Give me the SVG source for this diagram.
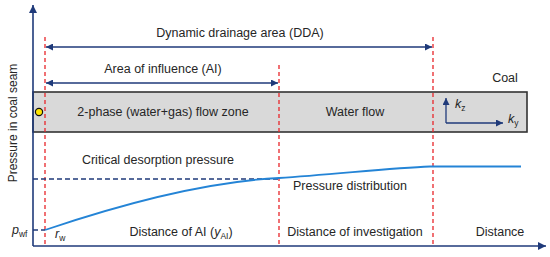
<svg xmlns="http://www.w3.org/2000/svg" width="550" height="257" viewBox="0 0 550 257">
<style>
text{font-family:"Liberation Sans",Arial,sans-serif;font-size:12.5px;fill:#262626}
.mid{text-anchor:middle}
.it{font-style:italic}
.sub{font-size:8.5px}
.ax{stroke:#1f3a7a;stroke-width:1.6;fill:none}
.nav{stroke:#1f3a7a;stroke-width:1.3;fill:none}
.red{stroke:#e8262a;stroke-width:1.3;stroke-dasharray:4 3;fill:none}
.crit{stroke:#1f3a7a;stroke-width:1.3;stroke-dasharray:5 3;fill:none}
.curve{stroke:#2484d6;stroke-width:1.8;fill:none}
</style>
<defs>
<marker id="ah" viewBox="0 0 10 10" refX="10" refY="5" markerWidth="8" markerHeight="7" markerUnits="userSpaceOnUse" orient="auto-start-reverse">
<path d="M0,0 L10,5 L0,10 z" fill="#1f3a7a"/>
</marker>
<marker id="axh" viewBox="0 0 10 10" refX="10" refY="5" markerWidth="9" markerHeight="8" markerUnits="userSpaceOnUse" orient="auto">
<path d="M0,0 L10,5 L0,10 z" fill="#1f3a7a"/>
</marker>
</defs>
<g id="coal-seam">
<rect x="33" y="92" width="494" height="40" fill="#d9d9d9" stroke="#333" stroke-width="1.6"/>
<text x="163" y="116" class="mid">2-phase (water+gas) flow zone</text>
<text x="355" y="116" class="mid">Water flow</text>
<text x="505" y="82" class="mid">Coal</text>
</g>
<g id="well">
<circle cx="39" cy="112" r="3.6" fill="#ffe600" stroke="#111" stroke-width="1.2"/>
</g>
<g id="axes">
<line x1="33" y1="246" x2="33" y2="5" class="ax" marker-end="url(#axh)"/>
<line x1="33" y1="246" x2="546" y2="246" class="ax" marker-end="url(#axh)"/>
<text transform="translate(17,123) rotate(-90)" class="mid" style="font-size:12px">Pressure in coal seam</text>
</g>
<g id="connectors">
<line x1="45" y1="37" x2="45" y2="246" class="red"/>
<line x1="279" y1="65" x2="279" y2="246" class="red"/>
<line x1="433" y1="37" x2="433" y2="246" class="red"/>
<line x1="46" y1="47" x2="432" y2="47" class="nav" marker-start="url(#ah)" marker-end="url(#ah)"/>
<line x1="46" y1="83" x2="278" y2="83" class="nav" marker-start="url(#ah)" marker-end="url(#ah)"/>
<line x1="33" y1="179" x2="279" y2="179" class="crit"/>
<line x1="33" y1="230" x2="45" y2="230" class="crit"/>
<path d="M45,230 C110,208 200,182 279,178 C330,175 390,168 430,166.5 L521,166.5" class="curve"/>
<line x1="446" y1="123" x2="446" y2="98" class="nav" marker-end="url(#ah)"/>
<line x1="446" y1="123" x2="503" y2="123" class="nav" marker-end="url(#ah)"/>
</g>
<g id="labels">
<text x="240" y="37" class="mid">Dynamic drainage area (DDA)</text>
<text x="163" y="73" class="mid">Area of influence (AI)</text>
<text x="158" y="164" class="mid">Critical desorption pressure</text>
<text x="350" y="190" class="mid">Pressure distribution</text>
<text x="181" y="236" class="mid">Distance of AI (<tspan class="it">y</tspan><tspan class="sub" dy="2.5">AI</tspan><tspan dy="-2.5">)</tspan></text>
<text x="355" y="236" class="mid">Distance of investigation</text>
<text x="500" y="236" class="mid">Distance</text>
<text x="12" y="234"><tspan class="it">p</tspan><tspan class="sub" dy="2.5">wf</tspan></text>
<text x="55" y="238"><tspan class="it">r</tspan><tspan class="sub" dy="2.5">w</tspan></text>
<text x="455" y="108"><tspan class="it">k</tspan><tspan class="sub" dy="2.5">z</tspan></text>
<text x="508" y="123"><tspan class="it">k</tspan><tspan class="sub" dy="2.5">y</tspan></text>
</g>
</svg>
